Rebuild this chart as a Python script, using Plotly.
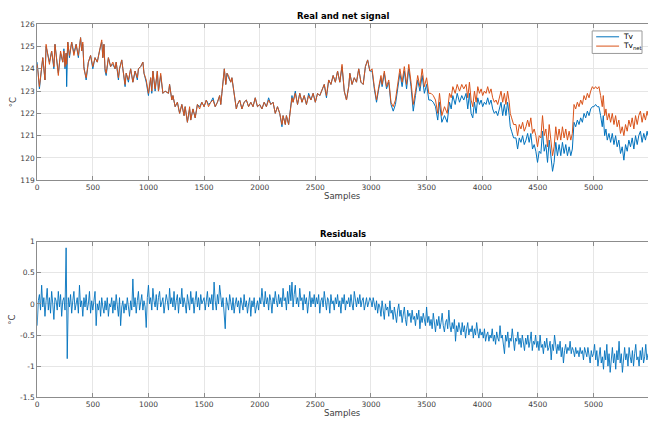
import plotly.graph_objects as go

# ---------------- data ----------------
top_x = [0,20,50,70,80,110,130,150,160,190,210,230,240,250,260,265,275,290,310,330,350,370,390,400,410,
         420,440,460,480,500,520,540,560,580,590,600,610,620,640,660,680,700,710,730,740,760,770,790,800,820,840,860,880,900,910,930,950,960,980,1000,
         1020,1030,1040,1060,1080,1090,1110,1130,1150,1180,1190,1210,1220,1240,1260,1280,1300,1320,1330,1350,1370,1380,1400,1420,1440,1460,1480,1500,1520,1540,1560,1580,1600,1620,1640,1650,1660,
         1682,1695,1706,1720,1740,1750,1770,1790,1800,1820,1840,1860,1880,1900,1920,1940,1960,1980,2000,2020,2040,2060,2080,2100,2120,2140,2160,2180,2200,2210,2230,2240,2260,2270,2290,
         2300,2320,2340,2360,2380,2400,2420,2440,2460,2480,2500,2520,2540,2560,2580,2600,2620,2640,2660,2680,2700,2720,2740,2760,2780,2800,2810,2830,2850,2870,2890,2910,2930,2950,2970,2990,
         3010,3030,3050,3070,3090,3100,3120,3140,3160,3180,3200,3220,3240,3260,3280,3300,3320,3340,3360,3380,3400,3420,3440,3460,3480,3500,3520,3540,3560,3580,3600,
         3616,3637,3661,3685,3706,3721,3736,3757,3775,3796,3816,3834,3855,3870,3885,3900,3915,3930,3945,3960,3975,3990,4004,4019,4034,4049,4064,4079,4094,4109,4124,4139,4154,4169,4184,4199,4213,4228,4243,4252,
         4264,4282,4303,4318,4333,4348,4363,4378,4393,4408,4422,4437,4452,4467,4482,4497,4512,4527,4542,4557,4572,4587,4602,4617,4632,4646,4661,4676,4691,4706,4721,4736,4751,4766,4781,4796,4810,
         4825,4840,4855,4870,4885,4900,4915,4930,4945,4960,4975,4990,5004,5019,5034,5049,5064,5079,5088,5100,5112,5124,5139,5154,5169,5184,5199,5213,5228,5243,5258,5273,5288,5303,5318,5333,5348,5363,5378,5393,5407,5422,5437,5452,5467,5482,5490]

tv_net = [124.2,123.2,124.5,123.5,125.1,124.2,124.8,124.1,125.1,123.7,124.8,124.3,124.8,124.1,124.7,124.2,125.2,124.6,125.2,124.6,125.1,124.6,125.4,124.8,125.2,
          124.0,123.6,124.3,124.6,124.1,124.5,124.3,124.8,125.3,124.5,125.1,124.0,123.8,124.5,124.1,124.3,124.0,124.3,123.6,124.0,124.4,124.0,123.3,123.8,123.5,124.0,123.4,123.9,123.6,124.0,124.1,124.3,123.8,123.5,122.9,
          123.6,123.0,123.9,123.1,123.9,123.0,123.8,122.9,123.0,122.9,123.3,122.6,122.8,122.3,122.5,122.0,122.4,121.9,122.3,121.6,122.3,121.7,122.2,121.8,122.4,122.2,122.5,122.3,122.6,122.3,122.5,122.6,122.3,122.5,122.8,122.4,122.9,
          124.0,123.3,123.8,123.7,123.4,123.6,122.9,122.2,122.4,122.6,122.2,122.5,122.6,122.3,122.5,122.3,122.7,122.3,122.4,122.2,122.5,122.3,122.6,122.4,122.5,122.0,122.3,122.0,121.5,121.9,121.5,121.9,121.5,122.0,122.7,
          122.5,122.9,122.4,122.9,122.5,122.8,122.4,122.8,122.6,122.9,122.5,122.9,122.8,123.1,123.3,122.8,123.5,123.3,123.7,123.4,123.9,123.4,124.2,123.0,122.6,123.2,123.8,123.3,123.6,123.4,124.0,123.4,123.3,124.1,124.4,123.9,
          124.0,123.2,122.6,123.2,123.7,123.3,123.9,123.2,123.5,122.5,122.3,122.6,123.3,124.0,123.4,124.1,123.3,124.2,123.4,122.4,123.0,123.7,123.2,124.0,123.2,123.6,122.9,122.9,122.8,122.6,122.0,
          122.9,121.9,122.3,122.0,122.9,122.7,123.2,122.9,123.3,123.0,123.3,123.1,123.3,122.7,123.4,122.6,122.3,123.0,122.5,123.2,122.9,123.1,122.8,123.0,122.9,123.2,122.9,123.1,122.7,122.5,122.6,122.4,122.7,123.0,122.5,122.9,122.4,123.0,122.5,122.0,
          121.8,121.5,121.5,121.0,121.5,121.3,121.6,121.2,121.4,121.7,121.4,121.8,121.1,121.3,121.0,120.5,121.0,120.9,121.9,121.0,121.3,120.5,121.5,120.8,120.1,120.5,121.4,120.8,121.3,120.8,121.4,120.9,121.3,120.8,121.2,120.8,121.1,
          122.4,122.2,122.5,122.3,122.6,122.4,122.8,122.6,122.9,122.7,123.0,123.2,123.1,123.2,123.1,123.2,122.8,122.3,122.8,121.9,122.2,121.7,122.0,121.6,122.0,121.5,121.9,121.4,121.7,121.1,121.4,121.0,121.5,121.2,121.7,121.4,121.8,121.3,121.9,121.5,121.9,122.1,121.6,122.0,121.7,122.1,121.9]

tv = [124.3,123.1,124.5,123.5,125.0,124.3,124.8,124.0,125.1,123.8,124.7,124.3,124.9,124.0,124.7,123.2,125.2,124.5,125.2,124.7,125.1,124.5,125.4,124.8,125.1,
      124.1,123.5,124.3,124.6,124.0,124.5,124.3,124.8,125.2,124.5,125.1,123.9,123.7,124.5,124.1,124.2,124.0,124.3,123.5,124.0,124.4,124.0,123.2,123.8,123.4,124.0,123.4,123.9,123.5,124.0,124.1,124.3,123.8,123.4,122.8,
      123.6,122.9,123.9,123.0,123.9,123.0,123.7,122.9,123.0,122.9,123.3,122.6,122.8,122.3,122.5,122.0,122.4,121.9,122.3,121.6,122.2,121.7,122.2,121.8,122.4,122.3,122.5,122.3,122.6,122.4,122.5,122.7,122.3,122.5,122.8,122.4,122.9,
      124.0,123.3,123.8,123.6,123.4,123.6,122.9,122.2,122.4,122.6,122.2,122.5,122.6,122.3,122.5,122.3,122.7,122.3,122.4,122.2,122.5,122.3,122.7,122.4,122.5,122.0,122.3,122.0,121.4,121.9,121.5,121.9,121.5,122.0,122.8,
      122.5,123.0,122.4,122.9,122.5,122.8,122.4,122.9,122.6,122.9,122.5,122.9,122.8,123.1,123.3,122.7,123.5,123.3,123.7,123.4,123.9,123.4,124.1,123.0,122.6,123.2,123.8,123.3,123.6,123.4,124.0,123.4,123.3,124.1,124.4,123.9,
      123.9,123.1,122.5,123.1,123.6,123.2,123.8,123.1,123.4,122.4,122.1,122.4,123.1,123.8,123.2,123.9,123.1,124.0,123.2,122.1,122.8,123.5,123.0,123.7,122.9,123.3,122.6,122.6,122.5,122.3,121.7,
      122.5,121.6,121.9,121.6,122.5,122.2,122.8,122.4,122.9,122.5,122.8,122.6,122.9,122.2,122.9,122.0,121.8,122.5,122.0,122.7,122.4,122.6,122.3,122.5,122.4,122.7,122.4,122.6,122.2,122.0,122.1,121.9,122.2,122.5,121.9,122.4,121.9,122.5,121.9,121.4,
      121.2,120.9,120.9,120.4,120.9,120.7,121.0,120.6,120.8,121.1,120.7,121.1,120.4,120.6,120.3,119.8,120.3,120.2,121.2,120.3,120.6,119.8,120.8,120.1,119.4,119.8,120.7,120.1,120.6,120.1,120.7,120.2,120.6,120.1,120.5,120.1,120.4,
      121.6,121.4,121.7,121.5,121.8,121.6,122.0,121.8,122.1,121.9,122.2,122.3,122.3,122.4,122.3,122.3,121.9,121.4,121.9,121.0,121.3,120.8,121.1,120.7,121.1,120.6,121.0,120.5,120.8,120.2,120.5,119.9,120.6,120.3,120.8,120.5,120.9,120.4,121.0,120.6,121.0,121.2,120.7,121.1,120.8,121.2,121.0]

# residual samples every 10 samples (0 .. 5490)
res_x = list(range(0, 5500, 10))
residuals = [
    # 0-490
    -0.35,0.05,0.15,-0.1,0.3,-0.05,0.1,-0.2,0.05,0.25,
    -0.1,0.1,-0.15,0.2,0.0,-0.25,0.1,0.05,-0.1,0.2,
    -0.05,0.15,-0.2,0.05,0.1,-0.1,0.9,-0.88,0.1,-0.05,
    0.15,-0.15,0.05,0.2,-0.1,0.0,0.1,-0.15,0.3,-0.05,
    0.05,-0.2,0.1,-0.05,0.15,-0.1,0.0,0.2,-0.15,0.05,
    # 500-990
    -0.1,0.05,0.2,-0.35,0.0,-0.1,0.05,-0.2,0.1,-0.05,
    -0.15,0.05,-0.1,0.1,-0.2,0.0,-0.05,0.1,-0.15,0.05,
    -0.1,0.15,-0.05,-0.2,0.1,-0.35,-0.05,0.05,-0.15,0.0,
    -0.1,0.1,-0.05,-0.2,0.05,-0.1,0.4,-0.05,0.1,-0.15,
    0.05,0.2,-0.1,0.0,0.15,-0.1,0.05,-0.05,-0.38,0.1,
    # 1000-1490
    0.3,0.0,0.1,-0.1,0.25,0.05,-0.05,0.15,-0.1,0.1,
    0.2,-0.05,0.05,0.1,-0.15,0.0,0.15,0.05,-0.1,0.25,
    0.0,0.1,-0.05,0.2,-0.1,0.05,0.15,-0.15,0.1,0.0,
    0.25,-0.05,0.1,0.0,-0.15,0.15,0.05,-0.1,0.2,0.0,
    0.1,-0.15,0.05,0.2,-0.05,0.1,-0.1,0.15,0.0,0.05,
    # 1500-1990
    0.1,-0.1,0.05,0.2,-0.05,0.1,0.0,0.15,-0.1,0.35,
    0.05,-0.1,0.15,0.0,0.3,0.05,-0.05,0.1,-0.1,-0.4,
    0.1,0.0,-0.1,0.15,0.05,-0.1,0.1,-0.15,0.0,0.1,
    -0.05,0.05,-0.15,0.1,0.0,-0.1,0.15,-0.05,0.05,-0.15,
    0.0,0.1,-0.2,0.05,-0.05,0.1,-0.15,0.0,0.05,-0.1,
    # 2000-2490
    0.1,0.0,0.25,0.05,-0.05,0.2,0.0,0.1,-0.1,0.15,
    0.05,-0.15,0.1,0.0,0.2,0.05,-0.05,0.15,0.0,0.1,
    -0.05,0.25,0.05,0.1,-0.1,0.2,0.0,0.3,0.05,0.35,
    -0.05,0.15,0.3,0.0,0.1,-0.05,0.25,0.05,0.1,-0.1,
    0.15,0.0,0.1,-0.15,0.05,0.2,-0.05,0.1,0.0,0.15,
    # 2500-2990
    -0.05,0.1,0.0,0.15,-0.15,0.05,0.1,-0.05,0.2,0.0,
    -0.1,0.1,0.05,-0.15,0.15,0.0,0.05,-0.1,0.1,0.0,
    0.15,-0.05,0.05,-0.15,0.1,0.0,0.15,-0.1,0.05,0.0,
    0.1,-0.05,0.15,0.0,-0.1,0.2,0.05,-0.05,0.1,0.0,
    0.15,-0.05,0.05,0.1,-0.1,0.0,0.1,-0.05,0.05,0.1,
    # 3000-3490
    0.05,-0.05,0.1,0.0,-0.1,0.05,-0.15,0.0,-0.05,-0.2,
    0.05,-0.1,-0.25,0.0,-0.1,-0.05,-0.2,0.05,-0.15,-0.1,
    -0.25,-0.05,-0.15,-0.3,-0.1,0.0,-0.2,-0.1,-0.3,-0.15,
    -0.05,-0.25,-0.35,-0.1,-0.2,-0.15,-0.3,-0.1,-0.25,-0.2,
    -0.35,-0.15,-0.25,-0.1,-0.4,-0.2,-0.3,-0.15,-0.25,-0.35,
    # 3500-3990
    -0.05,-0.3,-0.2,-0.35,-0.25,-0.4,-0.15,-0.3,-0.45,-0.25,
    -0.35,-0.2,-0.4,-0.3,-0.15,-0.35,-0.45,-0.3,-0.25,-0.4,
    -0.1,-0.35,-0.45,-0.3,-0.4,-0.25,-0.6,-0.35,-0.45,-0.3,
    -0.4,-0.5,-0.3,-0.45,-0.35,-0.55,-0.4,-0.3,-0.5,-0.4,
    -0.45,-0.35,-0.55,-0.4,-0.5,-0.3,-0.45,-0.55,-0.4,-0.5,
    # 4000-4490
    -0.45,-0.55,-0.4,-0.6,-0.5,-0.45,-0.6,-0.5,-0.55,-0.4,
    -0.6,-0.5,-0.65,-0.45,-0.55,-0.6,-0.35,-0.55,-0.5,-0.65,
    -0.8,-0.5,-0.6,-0.45,-0.7,-0.55,-0.6,-0.4,-0.65,-0.75,
    -0.55,-0.6,-0.45,-0.65,-0.55,-0.7,-0.5,-0.6,-0.75,-0.55,
    -0.65,-0.5,-0.7,-0.6,-0.45,-0.75,-0.6,-0.65,-0.5,-0.7,
    # 4500-4990
    -0.6,-0.75,-0.5,-0.7,-0.65,-0.8,-0.6,-0.7,-0.55,-0.75,
    -0.7,-0.6,-0.9,-0.65,-0.75,-0.5,-0.7,-0.8,-0.65,-0.75,
    -0.6,-0.85,-0.7,-0.95,-0.75,-0.65,-0.8,-0.7,-0.75,-0.6,
    -0.8,-0.7,-0.75,-0.85,-0.7,-0.8,-0.75,-0.85,-0.7,-0.8,
    -0.75,-0.9,-0.7,-0.8,-0.85,-0.7,-0.8,-0.95,-0.75,-0.85,
    # 5000-5490
    -0.8,-0.65,-0.9,-0.75,-1.0,-0.8,-0.7,-0.95,-0.85,-1.05,
    -0.75,-0.9,-0.65,-1.0,-0.8,-1.1,-0.85,-0.7,-0.95,-0.8,
    -1.05,-0.75,-0.9,-0.6,-0.95,-0.8,-1.1,-0.85,-0.7,-0.9,
    -0.8,-1.0,-0.7,-0.85,-0.95,-0.75,-1.0,-0.8,-0.65,-0.9,
    -0.85,-1.0,-0.75,-0.9,-0.7,-0.95,-0.85,-0.65,-0.9,-0.8,
]

x_ticks = [0, 500, 1000, 1500, 2000, 2500, 3000, 3500, 4000, 4500, 5000]
top_y_ticks = [119, 120, 121, 122, 123, 124, 125, 126]
bot_y_ticks = [-1.5, -1, -0.5, 0, 0.5, 1]
bot_y_labels = ["-1.5", "-1", "-0.5", "0", "0.5", "1"]

# ---------------- styling ----------------
W, H = 648, 429
BLUE = "#0072BD"
ORANGE = "#D95319"
AXC = "#8c8c8c"
GRID = "#e6e6e6"
TXT = "#404040"
FONT = "DejaVu Sans"

x0 = 35.3 / W
dom_top = [1 - 180.0 / H, 1 - 20.7 / H]
dom_bot = [1 - 401.7 / H, 1 - 242.7 / H]

fig = go.Figure()
fig.add_trace(go.Scatter(x=top_x, y=tv, mode="lines", line=dict(color=BLUE, width=1),
                         name="Tv", xaxis="x", yaxis="y", showlegend=False))
fig.add_trace(go.Scatter(x=top_x, y=tv_net, mode="lines", line=dict(color=ORANGE, width=1),
                         name="Tv_net", xaxis="x", yaxis="y", showlegend=False))
fig.add_trace(go.Scatter(x=res_x, y=residuals, mode="lines", line=dict(color=BLUE, width=0.9),
                         name="Residuals", xaxis="x2", yaxis="y2", showlegend=False))

xcommon = dict(range=[0, 5490], tickvals=x_ticks, ticks="inside", ticklen=4, tickcolor=AXC,
               showline=True, linecolor=AXC, linewidth=1, mirror="ticks",
               showgrid=True, gridcolor=GRID, gridwidth=1, zeroline=False,
               tickfont=dict(family=FONT, size=7.5, color=TXT), domain=[x0, 1])
ycommon = dict(ticks="inside", ticklen=4, tickcolor=AXC, showline=True, linecolor=AXC, linewidth=1,
               showgrid=True, gridcolor=GRID, gridwidth=1, zeroline=False,
               tickfont=dict(family=FONT, size=7.5, color=TXT))

fig.update_layout(
    width=W, height=H, margin=dict(l=0, r=0, t=0, b=0),
    paper_bgcolor="white", plot_bgcolor="white", showlegend=False,
    xaxis=dict(anchor="y", **xcommon),
    yaxis=dict(anchor="x", domain=dom_top, range=[119, 126], tickvals=top_y_ticks, **ycommon),
    xaxis2=dict(anchor="y2", **xcommon),
    yaxis2=dict(anchor="x2", domain=dom_bot, range=[-1.5, 1], tickvals=bot_y_ticks,
                ticktext=bot_y_labels, **ycommon),
)

ann = []
def txt(x, y, s, size=8.5, bold=False, angle=0):
    ann.append(dict(xref="paper", yref="paper", x=x / W, y=1 - y / H, text=s, showarrow=False,
                    textangle=angle, xanchor="center", yanchor="middle",
                    font=dict(family=FONT, size=size, color="#000000" if bold else TXT)))

cx = (35.3 + 648) / 2
txt(cx, 12, "<b>Real and net signal</b>", size=8.5, bold=True)
txt(cx, 196.5, "Samples")
txt(10.5, 100, "°C", angle=-90)
txt(cx, 234.5, "<b>Residuals</b>", size=8.5, bold=True)
txt(cx, 417.5, "Samples")
txt(10.5, 322, "°C", angle=-90)

# legend box (drawn manually to mimic MATLAB legend)
shapes = [
    dict(type="rect", xref="paper", yref="paper", x0=592 / W, x1=642 / W, y0=1 - 50.5 / H, y1=1 - 27.5 / H,
         line=dict(color="#9a9a9a", width=1), fillcolor="white", layer="above"),
    dict(type="line", xref="paper", yref="paper", x0=596 / W, x1=619 / W, y0=1 - 33.5 / H, y1=1 - 33.5 / H,
         line=dict(color=BLUE, width=1), layer="above"),
    dict(type="line", xref="paper", yref="paper", x0=596 / W, x1=619 / W, y0=1 - 43 / H, y1=1 - 43 / H,
         line=dict(color=ORANGE, width=1), layer="above"),
]
ann.append(dict(xref="paper", yref="paper", x=621 / W, y=1 - 33.5 / H, text="Tv", showarrow=False,
                xanchor="left", yanchor="middle", font=dict(family=FONT, size=7.5, color="#000")))
ann.append(dict(xref="paper", yref="paper", x=621 / W, y=1 - 43 / H, text="Tv<sub>net</sub>", showarrow=False,
                xanchor="left", yanchor="middle", font=dict(family=FONT, size=7.5, color="#000")))

fig.update_layout(annotations=ann, shapes=shapes)
fig.write_html("out.html")
